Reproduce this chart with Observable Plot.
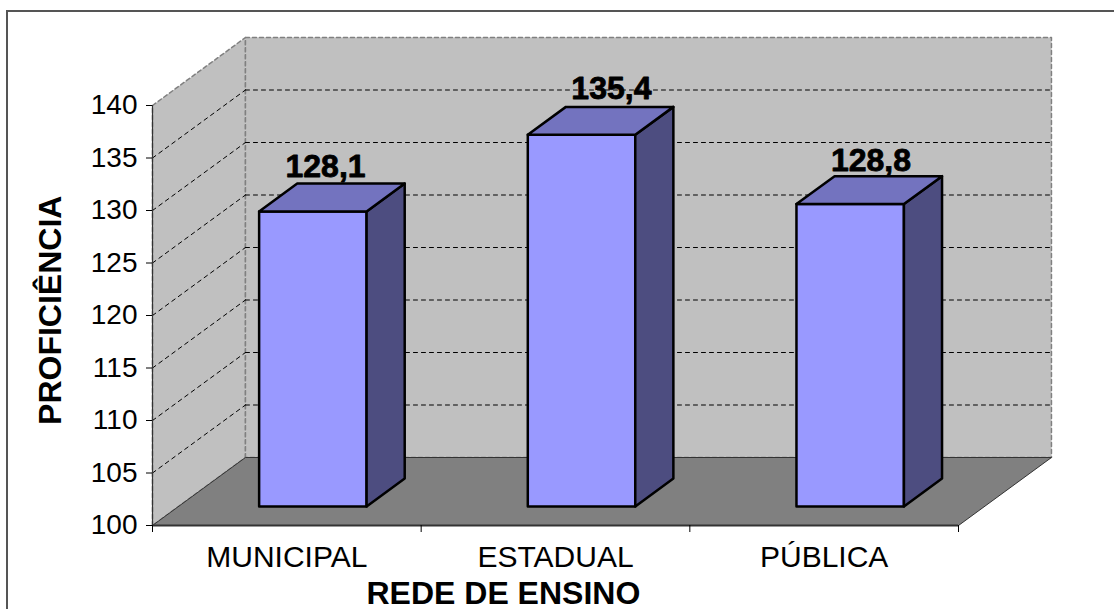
<!DOCTYPE html>
<html>
<head>
<meta charset="utf-8">
<script src="https://cdn.jsdelivr.net/npm/d3@7"></script>
<script src="https://cdn.jsdelivr.net/npm/@observablehq/plot@0.6"></script>
<style>
  html, body { margin: 0; padding: 0; background: #fff; overflow: hidden; }
  #chart { position: relative; width: 1114px; height: 609px; }
  #chart::before { content: ""; position: absolute; left: 6px; top: 10px; right: 0; bottom: 0;
    border-left: 2px solid #555; border-top: 2px solid #555; }
  #chart svg { position: relative; display: block; background: transparent; }
</style>
</head>
<body>
<div id="chart"></div>
<script>
const categories = ["MUNICIPAL", "ESTADUAL", "PÚBLICA"];
const values = [128.1, 135.4, 128.8];
const valueLabels = ["128,1", "135,4", "128,8"];
const yTicks = [100, 105, 110, 115, 120, 125, 130, 135, 140];
const labelX = [0.644, 1.708, 2.674];
const labelY = [133.2, 140.6, 133.8];

// Oblique projection: how far one full unit of depth moves a point, in data units
const depthX = 0.346, depthY = 6.476;
const barNear = 0.28, barFar = 0.69, barPad = 0.3, barWidth = 0.4;
const base = 100, top_ = 140, nCat = categories.length;

const at = (x, y, d = 0) => ({x: x + d * depthX, y: y + d * depthY});
const poly = (id, pts) => pts.map(p => ({...p, id}));
const closed = pts => [...pts, pts[0]];

const sideWall = closed([at(0, base), at(0, top_), at(0, top_, 1), at(0, base, 1)]);
const backWall = closed([at(0, base, 1), at(0, top_, 1), at(nCat, top_, 1), at(nCat, base, 1)]);
const floor = closed([at(0, base), at(0, base, 1), at(nCat, base, 1), at(nCat, base)]);

const gridTicks = yTicks.slice(1, -1);
const sideGrid = gridTicks.flatMap(v => poly(v, [at(0, v), at(0, v, 1)]));
const backGrid = gridTicks.flatMap(v => poly(v, [at(0, v, 1), at(nCat, v, 1)]));

const fronts = [], sides = [], tops = [];
values.forEach((v, i) => {
  const x0 = i + barPad, x1 = x0 + barWidth;
  fronts.push(...poly(i, closed([at(x0, base, barNear), at(x0, v, barNear), at(x1, v, barNear), at(x1, base, barNear)])));
  sides.push(...poly(i, closed([at(x1, base, barNear), at(x1, v, barNear), at(x1, v, barFar), at(x1, base, barFar)])));
  tops.push(...poly(i, closed([at(x0, v, barNear), at(x0, v, barFar), at(x1, v, barFar), at(x1, v, barNear)])));
});

const font = "'Liberation Sans', Arial, sans-serif";
const barStroke = {x: "x", y: "y", z: "id", stroke: "#000", strokeWidth: 2.5, strokeLinejoin: "round"};

const plot = Plot.plot({
  width: 1114, height: 609,
  marginLeft: 152, marginRight: 156, marginTop: 105, marginBottom: 84,
  style: {fontFamily: font, background: "transparent", overflow: "visible"},
  x: {domain: [0, nCat], axis: null},
  y: {domain: [base, top_], axis: null},
  marks: [
    Plot.line(sideWall, {x: "x", y: "y", fill: "#c0c0c0", stroke: "#808080", strokeDasharray: "4,3", strokeWidth: 1.5}),
    Plot.line(backWall, {x: "x", y: "y", fill: "#c0c0c0", stroke: "#808080", strokeDasharray: "4,3", strokeWidth: 1.5}),
    Plot.line(floor, {x: "x", y: "y", fill: "#808080", stroke: "#333", strokeWidth: 1}),
    Plot.line(sideGrid, {x: "x", y: "y", z: "id", stroke: "#000", strokeWidth: 1, strokeDasharray: "4,4"}),
    Plot.line(backGrid, {x: "x", y: "y", z: "id", stroke: "#000", strokeWidth: 1, strokeDasharray: "4,4"}),
    Plot.ruleX([0], {y1: base, y2: top_, stroke: "#333", strokeWidth: 1.2}),
    Plot.ruleY([base], {x1: 0, x2: nCat, stroke: "#333", strokeWidth: 2}),
    Plot.line(fronts, {...barStroke, fill: "#9999ff"}),
    Plot.line(sides, {...barStroke, fill: "#4d4d80"}),
    Plot.line(tops, {...barStroke, fill: "#7373bf"}),
    Plot.text(valueLabels, {x: labelX, y: labelY, text: d => d, fontSize: 32, fontWeight: "bold", fill: "#000", lineAnchor: "bottom", textAnchor: "middle", stroke: "#000", strokeWidth: 0.8}),
    Plot.axisY({ticks: yTicks, tickSize: 6, tickPadding: 9, fontSize: 28, color: "#000", label: null, anchor: "left", tickFormat: d => d}),
    Plot.axisX({ticks: d3.range(nCat + 1), tickSize: 7, tickFormat: () => "", label: null, anchor: "bottom", color: "#000"}),
    Plot.axisX({ticks: categories.map((c, i) => i + 0.5), tickSize: 0, tickPadding: 20, fontSize: 30, color: "#000", label: null, anchor: "bottom", tickFormat: d => categories[d - 0.5]}),
    Plot.text(["REDE DE ENSINO"], {x: [1.306], y: [93.5], text: d => d, fontSize: 32, fontWeight: "bold", fill: "#000"}),
    Plot.text(["PROFICIÊNCIA"], {x: [-0.38], y: [120.5], text: d => d, fontSize: 32, fontWeight: "bold", fill: "#000", rotate: -90})
  ]
});
document.getElementById("chart").appendChild(plot);
</script>
</body>
</html>
